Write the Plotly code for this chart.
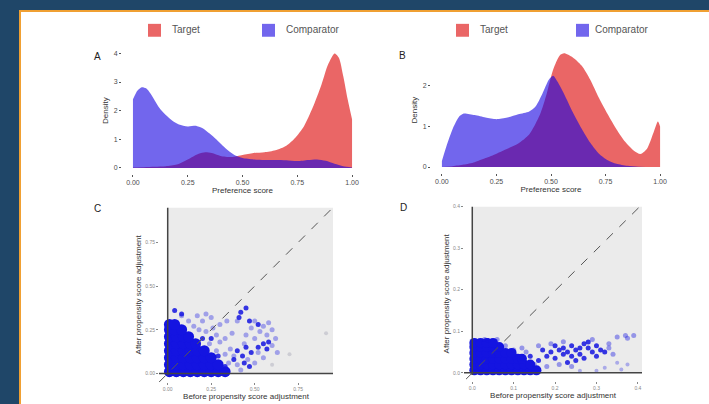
import plotly.graph_objects as go

# ---- panel A: preference score densities ----
a_target_x = [0.00, 0.05, 0.10, 0.15, 0.20, 0.25, 0.30, 0.33, 0.36, 0.40, 0.45, 0.50, 0.55, 0.60,
              0.65, 0.70, 0.74, 0.78, 0.82, 0.86, 0.89, 0.92, 0.94, 0.96, 0.98, 1.00]
a_target_y = [0.02, 0.03, 0.04, 0.06, 0.12, 0.30, 0.50, 0.55, 0.52, 0.42, 0.38, 0.45, 0.52, 0.55,
              0.62, 0.78, 1.05, 1.45, 2.10, 2.90, 3.60, 4.00, 3.85, 3.20, 2.40, 1.70]
a_comp_x = [0.00, 0.02, 0.04, 0.06, 0.08, 0.10, 0.12, 0.15, 0.18, 0.21, 0.25, 0.29, 0.32, 0.35,
            0.38, 0.41, 0.44, 0.47, 0.50, 0.55, 0.60, 0.65, 0.70, 0.75, 0.80, 0.84, 0.88, 0.92,
            0.96, 1.00]
a_comp_y = [2.40, 2.70, 2.82, 2.78, 2.60, 2.35, 2.10, 1.85, 1.65, 1.52, 1.45, 1.47, 1.38, 1.20,
            1.00, 0.78, 0.58, 0.43, 0.35, 0.30, 0.28, 0.28, 0.27, 0.24, 0.28, 0.30, 0.25, 0.15,
            0.06, 0.02]

# ---- panel B ----
b_target_x = [0.00, 0.05, 0.10, 0.15, 0.20, 0.25, 0.30, 0.35, 0.40, 0.45, 0.48, 0.51, 0.54, 0.56,
              0.60, 0.64, 0.68, 0.72, 0.76, 0.80, 0.84, 0.88, 0.91, 0.94, 0.97, 0.99, 1.00]
b_target_y = [0.00, 0.02, 0.06, 0.12, 0.22, 0.33, 0.45, 0.58, 0.80, 1.30, 1.80, 2.40, 2.75, 2.80,
              2.70, 2.50, 2.15, 1.70, 1.30, 0.93, 0.62, 0.40, 0.32, 0.45, 0.85, 1.12, 1.00]
b_comp_x = [0.00, 0.02, 0.05, 0.08, 0.10, 0.15, 0.20, 0.25, 0.30, 0.35, 0.40, 0.43, 0.46, 0.49,
            0.51, 0.53, 0.56, 0.60, 0.64, 0.68, 0.72, 0.76, 0.80, 0.85, 0.90, 1.00]
b_comp_y = [0.15, 0.50, 0.95, 1.25, 1.32, 1.28, 1.22, 1.18, 1.22, 1.30, 1.37, 1.50, 1.80, 2.15,
            2.25, 2.10, 1.80, 1.35, 0.95, 0.60, 0.33, 0.17, 0.08, 0.03, 0.01, 0.00]

# ---- panel C: covariate balance (before vs after) ----
c_dense_x = [0.01, 0.05, 0.09, 0.13, 0.17, 0.21, 0.25, 0.29, 0.33,
             0.01, 0.05, 0.09, 0.13, 0.17, 0.21, 0.25, 0.29,
             0.01, 0.05, 0.09, 0.13, 0.17, 0.21, 0.25,
             0.01, 0.05, 0.09, 0.13, 0.17, 0.21,
             0.01, 0.05, 0.09, 0.13, 0.16,
             0.01, 0.05, 0.09, 0.12,
             0.01, 0.04, 0.08,
             0.01, 0.04]
c_dense_y = [0.01, 0.01, 0.01, 0.01, 0.01, 0.01, 0.01, 0.01, 0.01,
             0.05, 0.05, 0.05, 0.05, 0.05, 0.05, 0.05, 0.05,
             0.09, 0.09, 0.09, 0.09, 0.09, 0.09, 0.09,
             0.13, 0.13, 0.13, 0.13, 0.13, 0.13,
             0.17, 0.17, 0.17, 0.17, 0.17,
             0.21, 0.21, 0.21, 0.21,
             0.25, 0.25, 0.25,
             0.28, 0.28]
c_dark_x = [0.04, 0.08, 0.42, 0.45, 0.47, 0.52, 0.41, 0.52, 0.57, 0.45, 0.43, 0.48, 0.55, 0.58,
            0.47, 0.38, 0.33, 0.40, 0.44, 0.25, 0.20, 0.29]
c_dark_y = [0.36, 0.34, 0.35, 0.375, 0.30, 0.28, 0.32, 0.15, 0.14, 0.15, 0.10, 0.12, 0.17, 0.18,
            0.04, 0.08, 0.04, 0.13, 0.06, 0.20, 0.20, 0.10]
c_mid_x = [0.12, 0.15, 0.18, 0.22, 0.20, 0.26, 0.28, 0.30, 0.33, 0.36, 0.38, 0.35, 0.40, 0.42,
           0.30, 0.25, 0.24, 0.28, 0.33, 0.37, 0.45, 0.48, 0.50, 0.53, 0.55, 0.57, 0.60, 0.62,
           0.58, 0.50, 0.46, 0.50, 0.55, 0.60, 0.63, 0.52, 0.40, 0.44, 0.34, 0.22, 0.17, 0.08]
c_mid_y = [0.30, 0.27, 0.25, 0.24, 0.30, 0.26, 0.22, 0.18, 0.20, 0.14, 0.10, 0.06, 0.05, 0.02,
           0.28, 0.32, 0.17, 0.13, 0.11, 0.23, 0.22, 0.26, 0.20, 0.24, 0.27, 0.22, 0.25, 0.20,
           0.29, 0.30, 0.08, 0.06, 0.09, 0.16, 0.12, 0.12, 0.30, 0.17, 0.30, 0.34, 0.33, 0.33]
c_light_x = [0.91, 0.70, 0.60]
c_light_y = [0.23, 0.11, 0.05]

# ---- panel D ----
d_dense_x = [0.005, 0.02, 0.035, 0.05, 0.065, 0.08, 0.095, 0.11, 0.125, 0.14, 0.155,
             0.005, 0.02, 0.035, 0.05, 0.065, 0.08, 0.095, 0.11, 0.125, 0.14,
             0.005, 0.02, 0.035, 0.05, 0.065, 0.08, 0.095, 0.11, 0.12,
             0.005, 0.02, 0.035, 0.05, 0.065, 0.08, 0.095,
             0.005, 0.02, 0.035, 0.05, 0.065,
             0.005, 0.02, 0.035, 0.05]
d_dense_y = [0.006, 0.006, 0.006, 0.006, 0.006, 0.006, 0.006, 0.006, 0.006, 0.006, 0.006,
             0.020, 0.020, 0.020, 0.020, 0.020, 0.020, 0.020, 0.020, 0.020, 0.020,
             0.034, 0.034, 0.034, 0.034, 0.034, 0.034, 0.034, 0.034, 0.034,
             0.048, 0.048, 0.048, 0.048, 0.048, 0.048, 0.048,
             0.062, 0.062, 0.062, 0.062, 0.062,
             0.072, 0.072, 0.072, 0.072]
d_dark_x = [0.16, 0.18, 0.19, 0.20, 0.21, 0.22, 0.22, 0.23, 0.24, 0.24, 0.25, 0.26, 0.26, 0.27,
            0.28, 0.28, 0.29, 0.30, 0.31, 0.20, 0.17, 0.23, 0.25, 0.27, 0.30, 0.32, 0.14, 0.12, 0.038]
d_dark_y = [0.030, 0.040, 0.050, 0.035, 0.055, 0.045, 0.060, 0.050, 0.040, 0.065, 0.055, 0.060,
            0.045, 0.070, 0.074, 0.060, 0.050, 0.065, 0.055, 0.065, 0.055, 0.025, 0.030, 0.035,
            0.040, 0.050, 0.040, 0.035, 0.078]
d_mid_x = [0.13, 0.15, 0.18, 0.21, 0.24, 0.33, 0.34, 0.33, 0.19, 0.22, 0.10, 0.12, 0.08, 0.06,
           0.03, 0.35, 0.37, 0.39, 0.375, 0.16, 0.29]
d_mid_y = [0.050, 0.020, 0.015, 0.020, 0.015, 0.060, 0.045, 0.070, 0.070, 0.075, 0.055, 0.060,
           0.065, 0.080, 0.080, 0.086, 0.090, 0.090, 0.083, 0.065, 0.080]
d_light_x = [0.35, 0.375, 0.32, 0.36, 0.30, 0.26]
d_light_y = [0.024, 0.020, 0.012, 0.008, 0.005, 0.005]

W, H = 709, 404
RED = "rgba(220,0,0,0.6)"
BLUE = "rgba(20,0,225,0.6)"
PT = "rgb(20,20,225)"
PANEL = "#ebebeb"
FONT = "Liberation Sans, Arial, sans-serif"


def fx(p):
    return p / W


def fy(p):
    return 1 - p / H


fig = go.Figure()

# density traces
for xs, ys, col, ax in [(a_target_x, a_target_y, RED, "x"), (a_comp_x, a_comp_y, BLUE, "x"),
                        (b_target_x, b_target_y, RED, "x2"), (b_comp_x, b_comp_y, BLUE, "x2")]:
    fig.add_trace(go.Scatter(
        x=xs, y=ys, mode="lines", fill="tozeroy", fillcolor=col,
        line=dict(color="rgba(0,0,0,0)", width=0, shape="spline", smoothing=0.7),
        xaxis=ax, yaxis=ax.replace("x", "y"), showlegend=False, hoverinfo="x+y"))

# scatter traces
scatter_sets = [
    (c_dense_x, c_dense_y, 11, 1.0, PT, "x3"),
    (c_mid_x, c_mid_y, 5, 0.35, PT, "x3"),
    (c_dark_x, c_dark_y, 5, 0.85, PT, "x3"),
    (c_light_x, c_light_y, 4, 0.35, "rgb(150,150,170)", "x3"),
    (d_dense_x, d_dense_y, 10, 1.0, PT, "x4"),
    (d_mid_x, d_mid_y, 5, 0.4, PT, "x4"),
    (d_dark_x, d_dark_y, 5, 0.85, PT, "x4"),
    (d_light_x, d_light_y, 4, 0.3, PT, "x4"),
]
for xs, ys, size, op, col, ax in scatter_sets:
    fig.add_trace(go.Scatter(
        x=xs, y=ys, mode="markers",
        marker=dict(size=size, color=col, opacity=op, line=dict(width=0)),
        xaxis=ax, yaxis=ax.replace("x", "y"), showlegend=False))

tick_ab = dict(size=7, color="#4d4d4d", family=FONT)
tick_cd = dict(size=5, color="#888888", family=FONT)
title_f = dict(size=8, color="#333333", family=FONT)

common_ab = dict(showgrid=False, zeroline=False, ticks="outside", ticklen=2, tickcolor="#555",
                 tickfont=tick_ab, showline=False)
common_cd = dict(showgrid=False, zeroline=False, ticks="outside", ticklen=2, tickcolor="#888",
                 tickfont=tick_cd, showline=False)

fig.update_layout(
    width=W, height=H, margin=dict(l=0, r=0, t=0, b=0),
    paper_bgcolor="#1f4668", plot_bgcolor=PANEL, font=dict(family=FONT),
    xaxis=dict(domain=[fx(122), fx(363)], range=[-0.05, 1.05], tickvals=[0, 0.25, 0.5, 0.75, 1],
               ticktext=["0.00", "0.25", "0.50", "0.75", "1.00"],
               title=dict(text="Preference score", font=title_f, standoff=2), anchor="y", **common_ab),
    yaxis=dict(domain=[fy(172), fy(45)], range=[-0.2, 4.2], tickvals=[0, 1, 2, 3, 4],
               title=dict(text="Density", font=title_f, standoff=3), anchor="x", **common_ab),
    xaxis2=dict(domain=[fx(431), fx(671)], range=[-0.05, 1.05], tickvals=[0, 0.25, 0.5, 0.75, 1],
                ticktext=["0.00", "0.25", "0.50", "0.75", "1.00"],
                title=dict(text="Preference score", font=title_f, standoff=2), anchor="y2", **common_ab),
    yaxis2=dict(domain=[fy(171), fy(45)], range=[-0.14, 2.94], tickvals=[0, 1, 2],
                title=dict(text="Density", font=title_f, standoff=3), anchor="x2", **common_ab),
    xaxis3=dict(domain=[fx(159), fx(333)], range=[-0.05, 0.95], tickvals=[0, 0.25, 0.5, 0.75],
                ticktext=["0.00", "0.25", "0.50", "0.75"],
                title=dict(text="Before propensity score adjustment", font=title_f, standoff=2),
                anchor="y3", **common_cd),
    yaxis3=dict(domain=[fy(382), fy(206)], range=[-0.05, 0.95], tickvals=[0, 0.25, 0.5, 0.75],
                ticktext=["0.00", "0.25", "0.50", "0.75"],
                title=dict(text="After propensity score adjustment", font=title_f, standoff=2),
                anchor="x3", **common_cd),
    xaxis4=dict(domain=[fx(464), fx(642)], range=[-0.02, 0.41], tickvals=[0, 0.1, 0.2, 0.3, 0.4],
                ticktext=["0.0", "0.1", "0.2", "0.3", "0.4"],
                title=dict(text="Before propensity score adjustment", font=title_f, standoff=2),
                anchor="y4", **common_cd),
    yaxis4=dict(domain=[fy(381), fy(205)], range=[-0.02, 0.40], tickvals=[0, 0.1, 0.2, 0.3, 0.4],
                ticktext=["0.0", "0.1", "0.2", "0.3", "0.4"],
                title=dict(text="After propensity score adjustment", font=title_f, standoff=2),
                anchor="x4", **common_cd),
)

shapes = [
    # white card with orange edge
    dict(type="rect", xref="paper", yref="paper", x0=fx(20), x1=1.02, y0=-0.02, y1=fy(8),
         fillcolor="white", line=dict(color="#f0a033", width=2), layer="below"),
    # C / D panels: white plot bg outside the grey region
    dict(type="rect", xref="x3 domain", yref="y3 domain", x0=0, x1=1, y0=0, y1=1,
         fillcolor="white", line=dict(width=0), layer="below"),
    dict(type="rect", xref="x3", yref="y3", x0=0, x1=0.95, y0=0, y1=0.95,
         fillcolor=PANEL, line=dict(width=0), layer="below"),
    dict(type="rect", xref="x4 domain", yref="y4 domain", x0=0, x1=1, y0=0, y1=1,
         fillcolor="white", line=dict(width=0), layer="below"),
    dict(type="rect", xref="x4", yref="y4", x0=0, x1=0.41, y0=0, y1=0.40,
         fillcolor=PANEL, line=dict(width=0), layer="below"),
    # axis lines at zero
    dict(type="line", xref="x3", yref="y3", x0=-0.05, x1=0.95, y0=0, y1=0,
         line=dict(color="#444", width=1.5)),
    dict(type="line", xref="x3", yref="y3", x0=0, x1=0, y0=-0.01, y1=0.95,
         line=dict(color="#444", width=1.5)),
    dict(type="line", xref="x4", yref="y4", x0=-0.02, x1=0.41, y0=0, y1=0,
         line=dict(color="#444", width=1.5)),
    dict(type="line", xref="x4", yref="y4", x0=0, x1=0, y0=-0.005, y1=0.40,
         line=dict(color="#444", width=1.5)),
    # identity lines
    dict(type="line", xref="x3", yref="y3", x0=-0.05, x1=0.95, y0=-0.05, y1=0.95,
         line=dict(color="#555", width=1, dash="dash")),
    dict(type="line", xref="x4", yref="y4", x0=-0.015, x1=0.41, y0=-0.015, y1=0.405,
         line=dict(color="#555", width=1, dash="dash")),
]

annotations = []
# legends (one above each density panel)
for sw_t, tx_t, sw_c, tx_c in [(148, 170, 262, 284), (456, 478, 576, 593)]:
    for sw, tx, col, lab in [(sw_t, tx_t, RED, "Target"), (sw_c, tx_c, BLUE, "Comparator")]:
        shapes.append(dict(type="rect", xref="paper", yref="paper", x0=fx(sw), x1=fx(sw + 13),
                           y0=fy(34), y1=fy(21), fillcolor=col, line=dict(width=0)))
        annotations.append(dict(x=fx(tx), y=fy(27), xref="paper", yref="paper", text=lab,
                                showarrow=False, xanchor="left", yanchor="middle",
                                font=dict(size=10, color="#555555", family=FONT)))

# panel letters
for lab, px, py in [("A", 97, 54), ("B", 402, 53), ("C", 97, 207), ("D", 403, 206)]:
    annotations.append(dict(x=fx(px), y=fy(py), xref="paper", yref="paper", text=lab,
                            showarrow=False, xanchor="center", yanchor="middle",
                            font=dict(size=10, color="#222222", family=FONT)))

fig.update_layout(shapes=shapes, annotations=annotations)

# drop the default page margin so the figure fills the window exactly
fig.write_html("out.html", config={"displayModeBar": False},
               post_script="document.body.style.margin='0';"
                           "document.body.style.overflow='hidden';")
